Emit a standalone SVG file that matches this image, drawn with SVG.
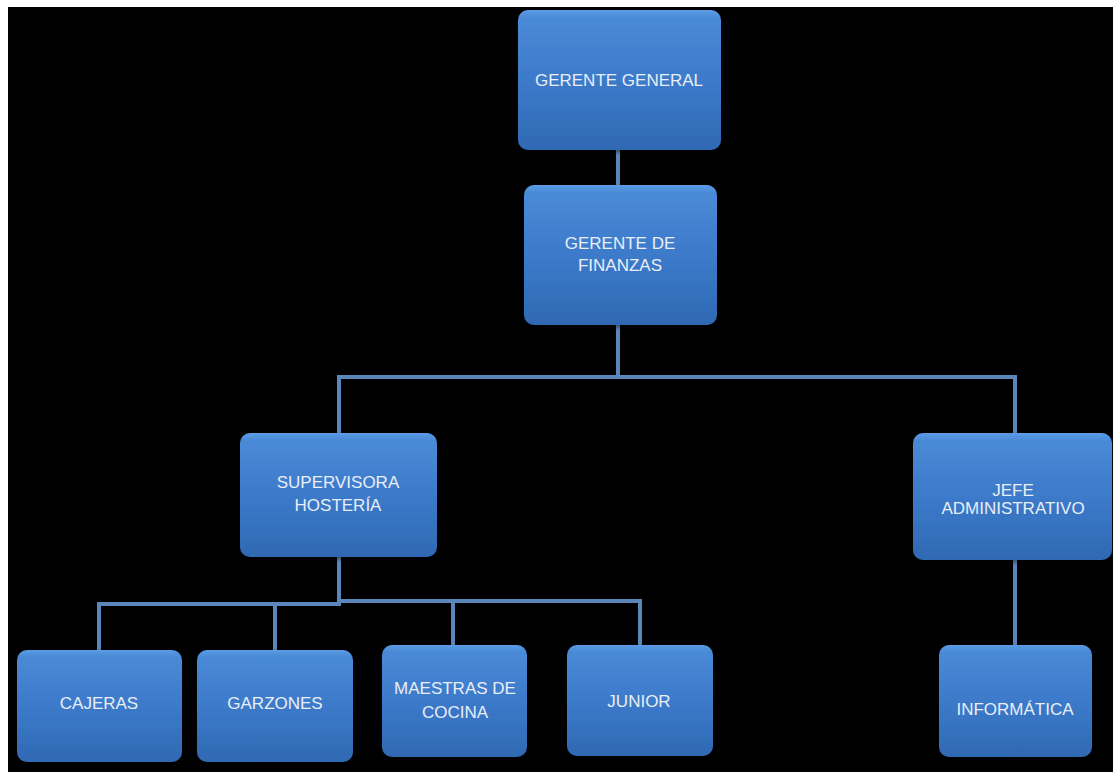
<svg xmlns="http://www.w3.org/2000/svg" width="1113" height="772" viewBox="0 0 1113 772">
<defs>
<linearGradient id="g" x1="0" y1="0" x2="0" y2="1">
<stop offset="0" stop-color="#5c9ce6"/>
<stop offset="0.06" stop-color="#4a8ad6"/>
<stop offset="0.5" stop-color="#3c7aca"/>
<stop offset="1" stop-color="#2f69b3"/>
</linearGradient>
<filter id="sh" x="-10%" y="-10%" width="120%" height="130%">
<feGaussianBlur in="SourceAlpha" stdDeviation="2"/>
<feOffset dx="0" dy="2"/>
<feComponentTransfer><feFuncA type="linear" slope="0.5"/></feComponentTransfer>
<feMerge><feMergeNode/><feMergeNode in="SourceGraphic"/></feMerge>
</filter>
</defs>
<style>
.box{fill:url(#g);filter:url(#sh)}
.t{font-family:"Liberation Sans",Arial,sans-serif;font-size:17px;fill:#e9eef7;text-anchor:middle}
.c{fill:none;stroke:#5b86bb;stroke-width:4}
</style>
<rect x="0" y="0" width="1113" height="772" fill="#ffffff"/>
<rect x="8" y="7" width="1105" height="765" fill="#000000"/>
<g id="connectors">
<path class="c" d="M618 150V185"/>
<path class="c" d="M618 325V377H339V433M618 377H1015V433"/>
<path class="c" d="M339 557V604H99V650M275 604V650M339 601H640V645M453 601V645"/>
<path class="c" d="M1015 560V645"/>
</g>
<g id="gerente-general"><rect class="box" x="518" y="10" width="203" height="140" rx="10"/><text class="t" x="619" y="86">GERENTE GENERAL</text></g>
<g id="gerente-finanzas"><rect class="box" x="524" y="185" width="193" height="140" rx="10"/><text class="t" x="620" y="249">GERENTE DE</text><text class="t" x="620" y="271">FINANZAS</text></g>
<g id="supervisora"><rect class="box" x="240" y="433" width="197" height="124" rx="10"/><text class="t" x="338" y="488">SUPERVISORA</text><text class="t" x="338" y="511">HOSTERÍA</text></g>
<g id="jefe"><rect class="box" x="913" y="433" width="199" height="127" rx="10"/><text class="t" x="1013" y="496">JEFE</text><text class="t" x="1013" y="514">ADMINISTRATIVO</text></g>
<g id="cajeras"><rect class="box" x="17" y="650" width="165" height="112" rx="10"/><text class="t" x="99" y="709">CAJERAS</text></g>
<g id="garzones"><rect class="box" x="197" y="650" width="156" height="112" rx="10"/><text class="t" x="275" y="709">GARZONES</text></g>
<g id="maestras"><rect class="box" x="382" y="645" width="145" height="112" rx="10"/><text class="t" x="455" y="694">MAESTRAS  DE</text><text class="t" x="455" y="718">COCINA</text></g>
<g id="junior"><rect class="box" x="567" y="645" width="146" height="111" rx="10"/><text class="t" x="639" y="707">JUNIOR</text></g>
<g id="informatica"><rect class="box" x="939" y="645" width="153" height="112" rx="10"/><text class="t" x="1015" y="715">INFORMÁTICA</text></g>
</svg>
